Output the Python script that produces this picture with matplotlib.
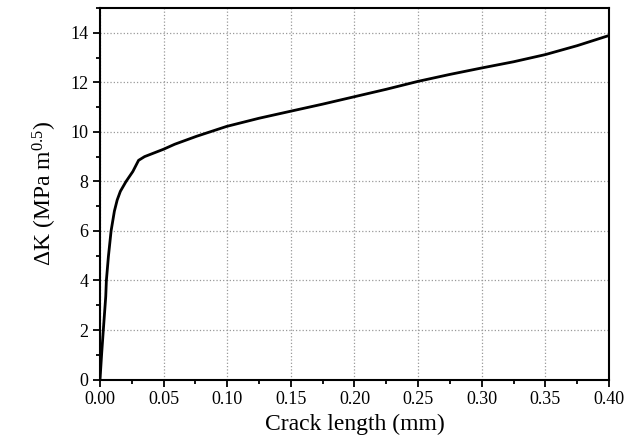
import matplotlib
matplotlib.use("Agg")
import matplotlib.pyplot as plt
from matplotlib.ticker import MultipleLocator, FormatStrFormatter

plt.rcParams['font.family'] = ['Liberation Serif', 'DejaVu Serif']
plt.rcParams['mathtext.fontset'] = 'custom'
plt.rcParams['mathtext.rm'] = 'Liberation Serif'
plt.rcParams['mathtext.it'] = 'Liberation Serif:italic'

# crack length (mm) vs stress intensity factor range (MPa m^0.5)
crack_length = [0.0, 0.0013, 0.0026, 0.0045, 0.0050, 0.0066, 0.0087, 0.0113,
                0.0135, 0.0160, 0.0205, 0.0258, 0.0303, 0.035, 0.050, 0.0587,
                0.0758, 0.0995, 0.125, 0.1495, 0.175, 0.20, 0.225, 0.25, 0.275,
                0.30, 0.325, 0.35, 0.375, 0.40]
delta_k = [0.0, 1.05, 2.0, 3.35, 4.0, 4.97, 6.0, 6.8,
           7.25, 7.6, 8.0, 8.4, 8.85, 9.0, 9.3, 9.5,
           9.82, 10.22, 10.55, 10.83, 11.12, 11.42, 11.72, 12.04, 12.32,
           12.58, 12.83, 13.12, 13.48, 13.89]

fig = plt.figure(figsize=(6.35, 4.46), dpi=100)
ax = fig.add_axes([0.1575, 0.149, 0.8015, 0.833])

ax.plot(crack_length, delta_k, color='black', lw=2.0)

ax.set_xlim(0, 0.40)
ax.set_ylim(0, 15)
ax.xaxis.set_major_locator(MultipleLocator(0.05))
ax.xaxis.set_minor_locator(MultipleLocator(0.025))
ax.yaxis.set_major_locator(MultipleLocator(2))
ax.yaxis.set_minor_locator(MultipleLocator(1))
ax.xaxis.set_major_formatter(FormatStrFormatter('%.2f'))

ax.grid(True, which='major', linestyle=':', color='#999999', lw=0.9)
ax.tick_params(which='both', direction='out', top=False, right=False,
               width=1.3, labelsize=13)
ax.tick_params(which='major', length=5)
ax.tick_params(which='minor', length=3)
for s in ax.spines.values():
    s.set_linewidth(1.5)

ax.set_xlabel('Crack length (mm)', fontsize=17, labelpad=4)
ax.set_ylabel(r'$\Delta$K (MPa m$^{0.5}$)', fontsize=17, labelpad=8)

fig.savefig('out.png', dpi=100)
